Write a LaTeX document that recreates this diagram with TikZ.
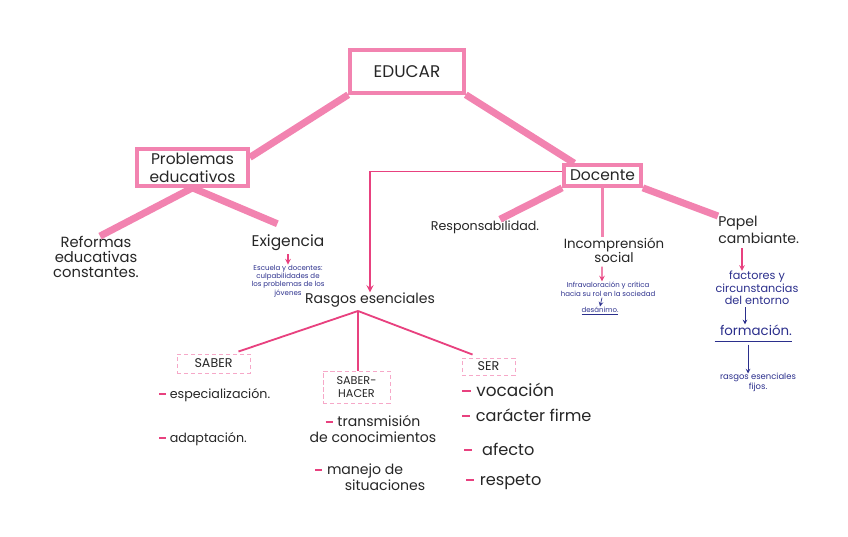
\documentclass[tikz,border=0pt]{standalone}
\usepackage{fontspec}
\setmainfont{Poppins}
\usetikzlibrary{calc}
\definecolor{rosa}{HTML}{F283B0}
\definecolor{fucsia}{HTML}{E8417F}
\definecolor{tinta}{HTML}{2B2F8C}
\definecolor{grafito}{HTML}{262626}
\begin{document}
\begin{tikzpicture}[scale=0.25]
\tikzstyle{every node}+=[inner sep=0pt, text=grafito]
\tikzstyle{caja}=[draw=rosa, line width=2.5pt]
\tikzstyle{cajita}=[draw=rosa!70, line width=0.5pt, densely dashed]
\tikzstyle{rama}=[rosa, line width=5pt]
\tikzstyle{hilo}=[fucsia, line width=1.3pt]
\tikzstyle{azul}=[text=tinta, align=center, font=\fontsize{5}{6}\selectfont]
\tikzstyle{flecharosa}=[fucsia, line width=0.8pt, ->, >=stealth]
\tikzstyle{flechaazul}=[tinta, line width=0.5pt, ->, >=stealth]
\tikzstyle{item}=[anchor=west, align=left, font=\fontsize{10}{16}\selectfont]
\newcommand{\guion}{{\color{fucsia}\rule[0.26em]{0.5em}{1.4pt}}\,\,}
\useasboundingbox (0,0) rectangle (84.8,-53.6);
% cabecera
\node [caja, minimum width=2.85cm, minimum height=1.075cm, font=\fontsize{12}{14}\selectfont] (educar) at (40.7,-7.15) {EDUCAR};
\node [caja, minimum width=2.78cm, minimum height=0.93cm, align=center, font=\fontsize{11}{12.7}\selectfont] (probl) at (19.25,-16.75) {Problemas\\educativos};
\node [caja, minimum width=1.93cm, minimum height=0.53cm, font=\fontsize{11}{12}\selectfont] (docente) at (60.25,-17.55) {Docente};
\draw [rama] (educar.south west) -- (probl.10);
\draw [rama] (educar.south east) -- ($(docente.north west)+(1.2,0)$);
% problemas educativos
\node [align=center, font=\fontsize{10.5}{10.6}\selectfont] (reformas) at (9.6,-25.7) {Reformas\\educativas\\constantes.};
\node [font=\fontsize{11}{12}\selectfont] (exig) at (28.8,-24.3) {Exigencia};
\node [azul] (culp) at (28.8,-28.1) {Escuela y docentes:\\culpabilidades de\\los problemas de los\\jóvenes};
\draw [rama] (probl.south) -- ($(reformas.north)+(0.4,0)$);
\draw [rama] (probl.south) -- ($(exig.north west)+(2.6,1.1)$);
\draw [flecharosa] ($(exig.south)+(0,-0.3)$) -- (culp.north);
% docente
\node [font=\fontsize{9}{10}\selectfont] (resp) at (48.5,-22.7) {Responsabilidad.};
\node [align=center, font=\fontsize{9.5}{10}\selectfont] (incomp) at (61.4,-25) {Incomprensión\\social};
\node [azul, font=\fontsize{5}{6.4}\selectfont] (infra) at (60.8,-28.9) {Infravaloración y crítica\\hacia su rol en la sociedad};
\node [azul] (desan) at (60,-31.1) {\underline{desánimo.}};
\node [anchor=north west, align=left, font=\fontsize{10}{12}\selectfont] (papel) at (71.8,-21.6) {Papel\\cambiante.};
\node [azul, font=\fontsize{8}{8.9}\selectfont] (factores) at (75.7,-28.8) {factores y\\circunstancias\\del entorno};
\node [text=tinta, font=\fontsize{9.5}{10}\selectfont] (formacion) at (75.6,-33) {formación.};
\node [azul, font=\fontsize{6}{7}\selectfont] (fijos) at (75.8,-38.2) {rasgos esenciales\\fijos.};
\draw [rama] (docente.south west) -- ($(resp.north)+(1.5,0.1)$);
\draw [rosa, line width=2.5pt] (docente.south) -- (docente.south |- incomp.north);
\draw [rama] (docente.south east) -- (papel.north west);
\draw [flecharosa] ($(incomp.south)+(-1.2,-0.4)$) -- ($(infra.north)+(-0.6,0)$);
\draw [flechaazul] ($(infra.south)+(-0.6,-0.1)$) -- (desan.north);
\draw [flecharosa] ($(papel.south west)+(2.4,-0.4)$) -- ($(factores.north)+(-1.5,0)$);
\draw [flechaazul] ($(factores.south)+(-1.2,-0.2)$) -- ($(formacion.north)+(-1.1,0)$);
\draw [tinta, line width=0.6pt] ($(formacion.south west)+(-0.5,-0.6)$) coordinate (raya) -- ($(formacion.south east)+(0,-0.6)$);
\draw [flechaazul] ($(formacion.south)+(-0.8,-0.9)$) -- ($(fijos.north)+(-1,-0.1)$);
% rasgos esenciales
\node [font=\fontsize{10}{12}\selectfont] (rasgos) at (37,-30) {Rasgos esenciales};
\draw [hilo, ->, >=stealth] ($(docente.west)+(0,0.4)$) -| (rasgos.north);
\coordinate (fork) at (35.8,-31.1);
\node [cajita, minimum width=1.83cm, minimum height=0.48cm, font=\fontsize{9}{10}\selectfont] (saber) at (21.35,-36.35) {SABER};
\node [cajita, minimum width=1.68cm, minimum height=0.8cm, align=center, font=\fontsize{8}{9.5}\selectfont] (sh) at (35.65,-38.7) {SABER-\\HACER};
\node [cajita, minimum width=1.33cm, minimum height=0.43cm, font=\fontsize{9}{10}\selectfont] (ser) at (48.85,-36.65) {SER};
\draw [hilo] (fork) -- ($(saber.north east)+(-1.2,0.2)$);
\draw [hilo] (fork) -- (fork |- sh.north);
\draw [hilo] (fork) -- ($(ser.north west)+(1.1,0.3)$);
% saber
\node [item, font=\fontsize{9}{10}\selectfont] (espec) at (15.9,-39.5) {\guion especialización.};
\node [item, font=\fontsize{9}{10}\selectfont] (adapt) at (15.9,-43.9) {\guion adaptación.};
% saber-hacer
\node [align=center, font=\fontsize{10}{11.3}\selectfont] (transm) at (37.3,-42.9) {\guion transmisión\\de conocimientos};
\node [item, font=\fontsize{10}{11.3}\selectfont] (manejo) at (31.5,-47.7) {\guion manejo de\\\hspace*{2.1em}situaciones};
% ser
\node [item, font=\fontsize{12}{13}\selectfont] (voc) at (46.2,-39) {\guion vocación};
\node [item, font=\fontsize{11.5}{13}\selectfont] (carac) at (46.2,-41.5) {\guion carácter firme};
\node [item, font=\fontsize{11.5}{13}\selectfont] (afecto) at (46.4,-44.9) {\guion\ afecto};
\node [item, font=\fontsize{11.5}{13}\selectfont] (respeto) at (46.6,-48.2) {\guion respeto};
\end{tikzpicture}
\end{document}
